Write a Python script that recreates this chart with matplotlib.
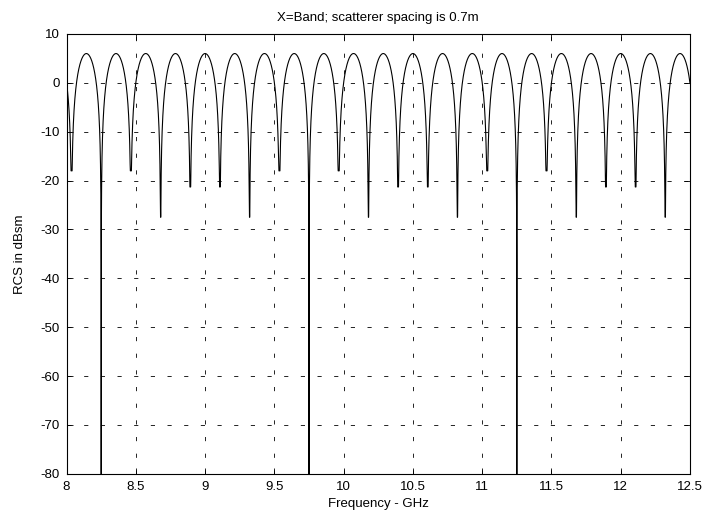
import numpy as np
import matplotlib
matplotlib.use("Agg")
import matplotlib.pyplot as plt

plt.rcParams['font.family'] = ['Liberation Sans', 'DejaVu Sans']
plt.rcParams['axes.unicode_minus'] = False

# null positions (GHz) and null depths (dBsm)
null_ghz = [8.036, 8.250, 8.464, 8.679, 8.893, 9.107, 9.321, 9.536, 9.750, 9.964,
            10.179, 10.393, 10.607, 10.821, 11.036, 11.250, 11.464, 11.679, 11.893,
            12.107, 12.321]
null_db = [-18.0, -90.0, -18.0, -27.5, -21.3, -21.3, -27.5, -18.0, -90.0, -18.0,
           -27.5, -21.3, -21.3, -27.5, -18.0, -90.0, -18.0, -27.5, -21.3,
           -21.3, -27.5]
peak_db = 6.0

xticks = [8, 8.5, 9, 9.5, 10, 10.5, 11, 11.5, 12, 12.5]
xticklabels = ['8', '8.5', '9', '9.5', '10', '10.5', '11', '11.5', '12', '12.5']
yticks = [-80, -70, -60, -50, -40, -30, -20, -10, 0, 10]

# lobes between nulls: two-scatterer shape, bottomed at the observed null depth
nulls = np.array(null_ghz)
depths = np.array(null_db)
period = np.mean(np.diff(nulls))
freq = np.union1d(np.linspace(8, 12.5, 9001), nulls)
idx = np.argmin(np.abs(freq[:, None] - nulls[None, :]), axis=1)
s = np.abs(np.sin(np.pi * (freq - nulls[idx]) / period))
with np.errstate(divide='ignore'):
    rcs = peak_db + 20 * np.log10(s)
rcs = np.maximum(rcs, depths[idx])

fig = plt.figure(figsize=(7.08, 5.19), dpi=100)
ax = fig.add_axes([0.094, 0.087, 0.8806, 0.8475])
ax.plot(freq, rcs, color='black', linewidth=0.8)

ax.set_xlim(8, 12.5)
ax.set_ylim(-80, 10)
ax.set_xticks(xticks)
ax.set_xticklabels(xticklabels)
ax.set_yticks(yticks)
ax.tick_params(direction='in', top=True, right=True, length=4, width=0.6,
               labelsize=9.5, pad=5)
ax.grid(True, color='black', linewidth=0.6, linestyle=(0, (5, 15)))
for sp in ax.spines.values():
    sp.set_linewidth(0.8)

ax.set_title('X=Band; scatterer spacing is 0.7m', fontsize=9.5, pad=9)
ax.set_xlabel('Frequency - GHz', fontsize=9.5, labelpad=4)
ax.set_ylabel('RCS in dBsm', fontsize=9.5, labelpad=10)

fig.savefig('out.png', dpi=100)
